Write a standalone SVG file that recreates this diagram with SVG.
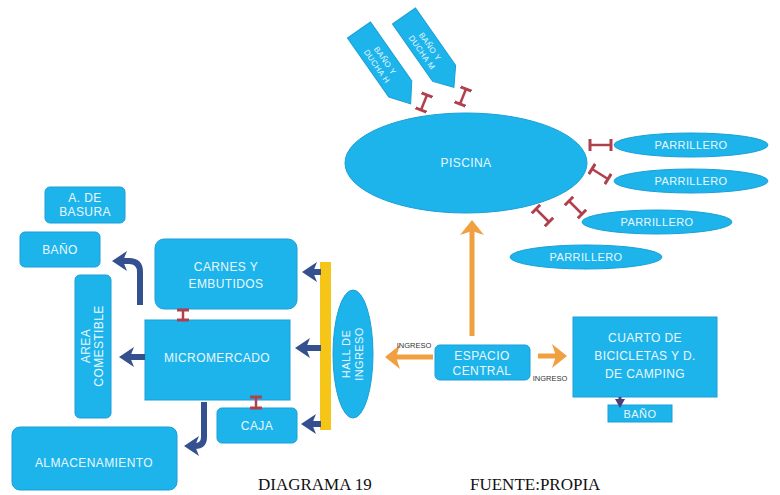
<svg xmlns="http://www.w3.org/2000/svg" width="780" height="495" viewBox="0 0 780 495">
<style>
.n{fill:#1DB4EC;stroke:#1A9FD6;stroke-width:1}
.t{font-family:"Liberation Sans",Arial,sans-serif;font-size:12px;letter-spacing:0.4px;fill:#EAF8FE;text-anchor:middle}
.p{font-size:11px}
.ts{font-family:"Liberation Sans",Arial,sans-serif;font-size:7.5px;fill:#333;text-anchor:middle}
.cap{font-family:"Liberation Serif","Times New Roman",serif;font-size:17px;fill:#111}
.b{fill:none;stroke:#34508F;stroke-width:6;marker-end:url(#hb)}
.o{fill:none;stroke:#F0A040;stroke-width:5;marker-end:url(#ho)}
.r{stroke:#B0404E;stroke-width:2.5;marker-start:url(#bar);marker-end:url(#bar)}
</style>
<defs>
<marker id="hb" markerUnits="userSpaceOnUse" markerWidth="16" markerHeight="20" refX="4" refY="10" orient="auto"><path d="M0,0 L15,10 L0,20 L4,10 z" fill="#34508F"/></marker>
<marker id="ho" markerUnits="userSpaceOnUse" markerWidth="16" markerHeight="24" refX="4" refY="12" orient="auto"><path d="M0,0 L15,12 L0,24 L4,12 z" fill="#F0A040"/></marker>
<marker id="bar" markerUnits="userSpaceOnUse" markerWidth="4" markerHeight="12" refX="2" refY="6" orient="auto"><path d="M2,0 L2,12" stroke="#B0404E" stroke-width="3"/></marker>
<marker id="hd" markerUnits="userSpaceOnUse" markerWidth="10" markerHeight="10" refX="2" refY="5" orient="auto"><path d="M0,0 L9,5 L0,10 z" fill="#4A3F7A"/></marker>
</defs>
<rect width="780" height="495" fill="#fff"/>

<g id="bano-ducha-h" transform="translate(359,30) rotate(-35)">
<path class="n" d="M-14,0 L14,0 L14,72 L0,90 L-14,72 z"/>
<g transform="rotate(90)"><text class="t" x="40" y="-1" style="font-size:8px">BAÑO Y</text><text class="t" x="40" y="9" style="font-size:8px">DUCHA H</text></g>
</g>
<g id="bano-ducha-m" transform="translate(404,16) rotate(-35)">
<path class="n" d="M-14,0 L14,0 L14,70 L0,87 L-14,70 z"/>
<g transform="rotate(90)"><text class="t" x="40" y="-1" style="font-size:8px">BAÑO Y</text><text class="t" x="40" y="9" style="font-size:8px">DUCHA M</text></g>
</g>

<g id="piscina"><ellipse class="n" cx="466" cy="163" rx="121" ry="50"/><text class="t" x="466" y="167">PISCINA</text></g>
<g id="parrillero1"><ellipse class="n" cx="691" cy="145" rx="77" ry="12"/><text class="t p" x="691" y="149">PARRILLERO</text></g>
<g id="parrillero2"><ellipse class="n" cx="691" cy="181" rx="77" ry="12"/><text class="t p" x="691" y="185">PARRILLERO</text></g>
<g id="parrillero3"><ellipse class="n" cx="657" cy="222" rx="75" ry="12"/><text class="t p" x="657" y="226">PARRILLERO</text></g>
<g id="parrillero4"><ellipse class="n" cx="586" cy="257" rx="76" ry="12"/><text class="t p" x="586" y="261">PARRILLERO</text></g>

<g id="a-basura"><rect class="n" x="45" y="187" width="80" height="36" rx="5"/><text class="t" x="85" y="202">A. DE</text><text class="t" x="85" y="216">BASURA</text></g>
<g id="bano1"><rect class="n" x="20" y="232" width="80" height="35" rx="5"/><text class="t" x="60" y="254">BAÑO</text></g>
<g id="area-comestible"><rect class="n" x="75" y="275" width="36" height="143" rx="5"/><g transform="translate(93,346) rotate(-90)"><text class="t" x="0" y="-3">AREA</text><text class="t" x="0" y="10">COMESTIBLE</text></g></g>
<g id="carnes"><rect class="n" x="155" y="239" width="142" height="70" rx="9"/><text class="t" x="226" y="271">CARNES Y</text><text class="t" x="226" y="288">EMBUTIDOS</text></g>
<g id="micromercado"><rect class="n" x="145" y="320" width="145" height="80"/><text class="t" x="217" y="362">MICROMERCADO</text></g>
<g id="caja"><rect class="n" x="217" y="408" width="80" height="35" rx="5"/><text class="t" x="257" y="430">CAJA</text></g>
<g id="almacenamiento"><rect class="n" x="12" y="427" width="165" height="63" rx="8"/><text class="t" x="94" y="467">ALMACENAMIENTO</text></g>
<g id="hall-bar"><rect x="320" y="262" width="11" height="168" fill="#F5C518"/></g>
<g id="hall"><ellipse class="n" cx="353" cy="354" rx="20" ry="64"/><g transform="translate(353,354) rotate(-90)"><text class="t" x="0" y="-3" style="font-size:11px">HALL DE</text><text class="t" x="0" y="10" style="font-size:11px">INGRESO</text></g></g>
<g id="espacio-central"><rect class="n" x="435" y="345" width="95" height="35" rx="5"/><text class="t" x="482" y="360">ESPACIO</text><text class="t" x="482" y="375">CENTRAL</text></g>
<g id="cuarto"><rect class="n" x="573" y="317" width="144" height="80"/><text class="t" x="645" y="342">CUARTO DE</text><text class="t" x="645" y="360">BICICLETAS Y D.</text><text class="t" x="645" y="378">DE CAMPING</text></g>
<g id="bano2"><rect class="n" x="608" y="405" width="64" height="17"/><text class="t" x="640" y="418" style="font-size:11px">BAÑO</text></g>

<g id="connectors">
<path class="b" d="M321,272 L313,272"/>
<path class="b" d="M321,348 L306,348"/>
<path class="b" d="M321,424 L312,424"/>
<path class="b" d="M145,357 L130,357"/>
<path class="b" d="M140,305 L140,272 Q140,261 129,261 L123,261"/>
<path class="b" d="M204,402 L204,437 Q204,446 195,446"/>
<path class="o" d="M433,357 L396,357"/>
<path class="o" d="M538,356 L556,356"/>
<path class="o" d="M472,336 L472,231"/>
<path d="M620,397 L620,401" stroke="#4A3F7A" stroke-width="3" marker-end="url(#hd)"/>
<path class="r" d="M183,310 L183,320"/>
<path class="r" d="M256,397 L256,408"/>
<path class="r" d="M421,110 L427,95"/>
<path class="r" d="M460,104 L466,89"/>
<path class="r" d="M590,145 L611,145"/>
<path class="r" d="M592,169 L608,179"/>
<path class="r" d="M569,201 L582,214"/>
<path class="r" d="M536,209 L549,222"/>
<text class="ts" x="414" y="348">INGRESO</text>
<text class="ts" x="550" y="381">INGRESO</text>
</g>

<text class="cap" x="258" y="490">DIAGRAMA 19</text>
<text class="cap" x="470" y="490">FUENTE:PROPIA</text>
</svg>
